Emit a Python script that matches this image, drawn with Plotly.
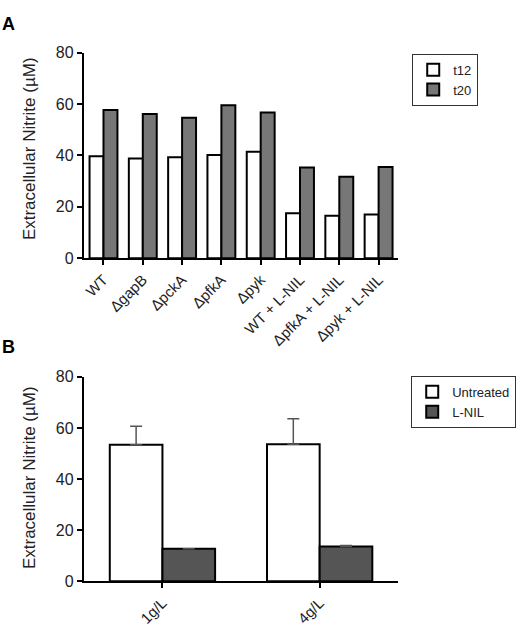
import plotly.graph_objects as go

# Panel A data
strains = ["WT", "ΔgapB", "ΔpckA", "ΔpfkA", "Δpyk", "WT + L-NIL", "ΔpfkA + L-NIL", "Δpyk + L-NIL"]
t12 = [39.7, 38.8, 39.3, 40.2, 41.4, 17.5, 16.5, 17.0]
t20 = [57.7, 56.1, 54.7, 59.6, 56.7, 35.3, 31.7, 35.5]

# Panel B data
conc = ["1g/L", "4g/L"]
untreated = [53.4, 53.6]
untreated_err = [7.3, 10.0]
lnil = [12.7, 13.6]
lnil_err = [0.0, 0.4]

W, H = 531, 636
FONT = "Arial, Liberation Sans, sans-serif"
TXT = "#222222"

def px(x):
    return x / W

def py(y):
    return 1 - y / H

fig = go.Figure()
fig.add_trace(go.Bar(x=strains, y=t12, name="t12", marker=dict(color="white", line=dict(color="black", width=2)),
                     xaxis="x", yaxis="y", legend="legend"))
fig.add_trace(go.Bar(x=strains, y=t20, name="t20", marker=dict(color="#777777", line=dict(color="black", width=2)),
                     xaxis="x", yaxis="y", legend="legend"))
fig.add_trace(go.Bar(x=conc, y=untreated, name="Untreated", width=0.335, offset=-0.335,
                     marker=dict(color="white", line=dict(color="black", width=2)),
                     error_y=dict(type="data", symmetric=False, array=untreated_err, arrayminus=[0, 0],
                                  color="#555555", thickness=1.5, width=6),
                     xaxis="x2", yaxis="y2", legend="legend2"))
fig.add_trace(go.Bar(x=conc, y=lnil, name="L-NIL", width=0.335, offset=0,
                     marker=dict(color="#555555", line=dict(color="black", width=2)),
                     error_y=dict(type="data", symmetric=False, array=lnil_err, arrayminus=[0, 0],
                                  color="#555555", thickness=1.5, width=6),
                     xaxis="x2", yaxis="y2", legend="legend2"))

axis_common = dict(showline=True, linecolor="black", linewidth=2, ticks="outside", ticklen=5,
                   tickwidth=2, tickcolor="black", showgrid=False, zeroline=False,
                   tickfont=dict(family=FONT, size=16, color=TXT))

xa = dict(axis_common)
xa.update(tickfont=dict(family=FONT, size=15, color=TXT), tickangle=-45)

fig.update_layout(
    width=W, height=H,
    margin=dict(l=0, r=0, t=0, b=0),
    plot_bgcolor="white", paper_bgcolor="white",
    barmode="group",
    bargap=0.29, bargroupgap=0,
    font=dict(family=FONT, color=TXT),
    xaxis=dict(xa, domain=[px(83), px(398)], anchor="y", range=[-0.5, 7.5]),
    yaxis=dict(axis_common, domain=[py(257), py(46)], anchor="x", range=[0, 80],
               tickvals=[0, 20, 40, 60, 80]),
    xaxis2=dict(xa, domain=[px(83), px(398)], anchor="y2", range=[-0.5, 1.5]),
    yaxis2=dict(axis_common, domain=[py(589), py(379)], anchor="x2", range=[0, 80],
                tickvals=[0, 20, 40, 60, 80]),
    legend=dict(x=px(412), y=py(47), xanchor="left", yanchor="top", bordercolor="#333333", borderwidth=1,
                bgcolor="white", font=dict(family=FONT, size=13, color=TXT), tracegroupgap=0),
    legend2=dict(x=px(411), y=py(378), xanchor="left", yanchor="top", bordercolor="#333333", borderwidth=1,
                 bgcolor="white", font=dict(family=FONT, size=13, color=TXT), tracegroupgap=0),
    annotations=[
        dict(text="A", x=px(-1), y=py(4), xref="paper", yref="paper", xanchor="left", yanchor="top",
             showarrow=False, font=dict(family=FONT, size=18, color="black", weight="bold")),
        dict(text="B", x=px(-1), y=py(336), xref="paper", yref="paper", xanchor="left", yanchor="top",
             showarrow=False, font=dict(family=FONT, size=18, color="black", weight="bold")),
        dict(text="Extracellular Nitrite (µM)", x=px(28), y=py(144), xref="paper", yref="paper",
             xanchor="center", yanchor="middle",
             textangle=-90, showarrow=False, font=dict(family=FONT, size=17, color=TXT)),
        dict(text="Extracellular Nitrite (µM)", x=px(28), y=py(482), xref="paper", yref="paper",
             xanchor="center", yanchor="middle",
             textangle=-90, showarrow=False, font=dict(family=FONT, size=17, color=TXT)),
    ],
)

fig.write_html("out.html")
